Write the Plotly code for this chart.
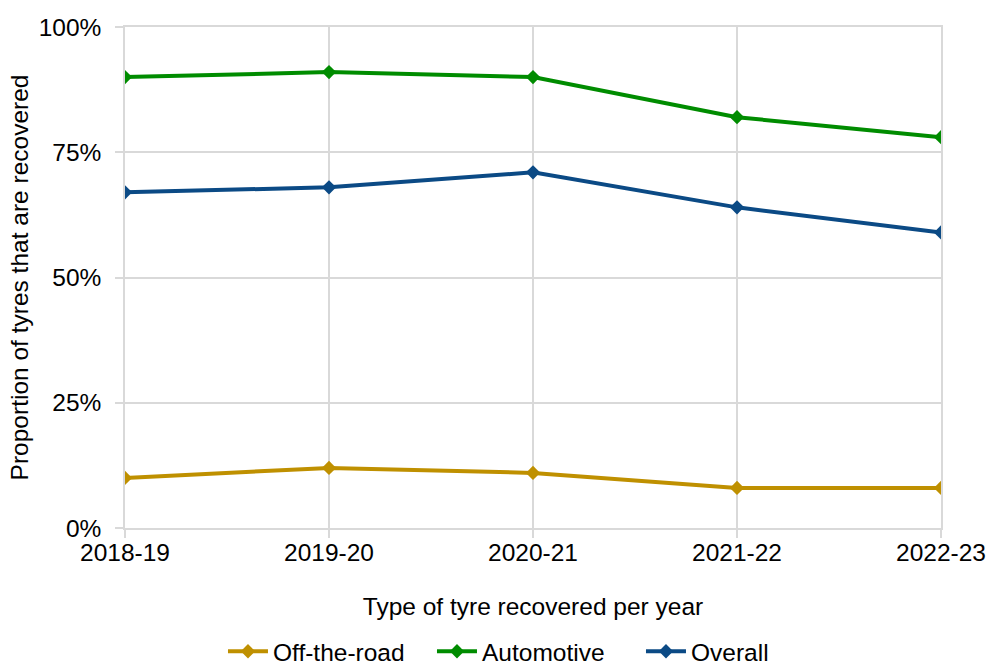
import plotly.graph_objects as go

years = ["2018-19", "2019-20", "2020-21", "2021-22", "2022-23"]
off_the_road = [10, 12, 11, 8, 8]
automotive = [90, 91, 90, 82, 78]
overall = [67, 68, 71, 64, 59]

y_ticks = [0, 25, 50, 75, 100]
y_tick_labels = ["0%", "25%", "50%", "75%", "100%"]

series = [
    ("Off-the-road", off_the_road, "#BF9000"),
    ("Automotive", automotive, "#008C00"),
    ("Overall", overall, "#0B4A85"),
]

FONT = "Liberation Sans, Arial, sans-serif"
GRID = "#D9D9D9"
FS = 24.5

fig = go.Figure()
for name, vals, color in series:
    fig.add_trace(go.Scatter(
        x=years, y=vals, name=name, mode="lines+markers",
        line=dict(color=color, width=4),
        marker=dict(symbol="diamond", size=11, color=color),
    ))

fig.update_layout(
    width=988, height=666,
    margin=dict(l=125, r=47, t=27, b=138),
    paper_bgcolor="white", plot_bgcolor="white",
    font=dict(family=FONT, size=FS, color="#000000"),
    showlegend=True,
    legend=dict(orientation="h", xref="container", yref="container",
                x=0.543, xanchor="center", y=0.022, yanchor="middle",
                font=dict(size=FS), itemwidth=40, tracegroupgap=0,
                entrywidth=154, entrywidthmode="pixels",
                borderwidth=0, bgcolor="rgba(0,0,0,0)"),
)
fig.update_xaxes(
    type="category", range=[0, 4], automargin=False,
    showgrid=True, gridcolor=GRID, gridwidth=1.5,
    showline=True, linecolor=GRID, linewidth=1.5, mirror=True,
    ticks="outside", ticklen=8, tickcolor=GRID, tickwidth=1.5,
    ticklabelstandoff=-6,
    tickfont=dict(size=FS),
    title=dict(text="Type of tyre recovered per year", font=dict(size=FS), standoff=33),
)
fig.update_yaxes(
    range=[0, 100], tickvals=y_ticks, ticktext=y_tick_labels, automargin=False,
    showgrid=True, gridcolor=GRID, gridwidth=1.5, zeroline=False,
    showline=True, linecolor=GRID, linewidth=1.5, mirror=True,
    ticks="outside", ticklen=8, tickcolor=GRID, tickwidth=1.5,
    ticklabelstandoff=9,
    tickfont=dict(size=FS),
    title=dict(text="Proportion of tyres that are recovered", font=dict(size=FS), standoff=3),
)

fig.write_html("out.html")
